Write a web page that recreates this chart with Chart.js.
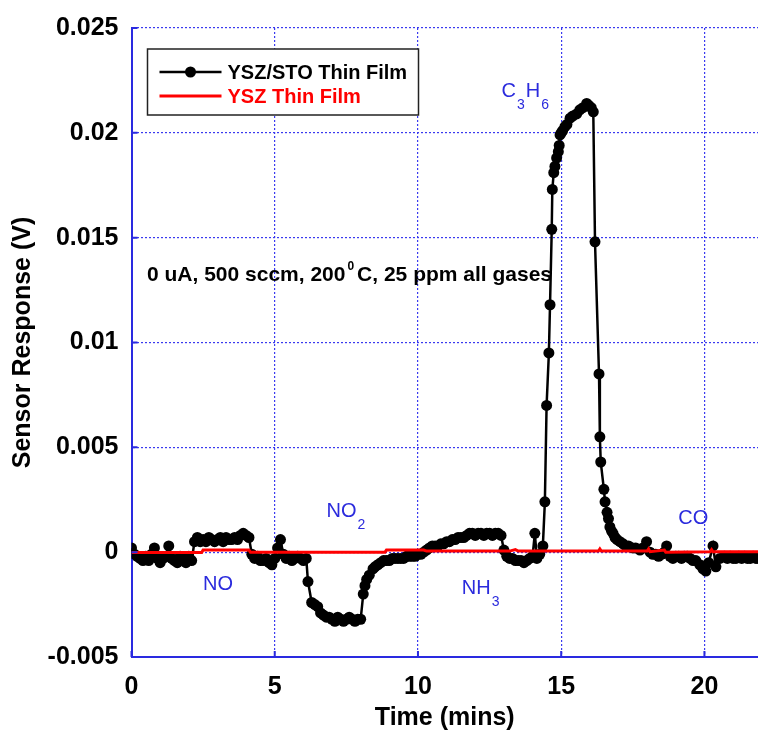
<!DOCTYPE html>
<html>
<head>
<meta charset="utf-8">
<script src="https://cdn.jsdelivr.net/npm/chart.js@4.4.1/dist/chart.umd.min.js"></script>
<style>
  html, body { margin: 0; padding: 0; background: #fff; overflow: hidden; }
  canvas { display: block; }
</style>
</head>
<body>
<canvas id="sensorChart" width="758" height="733"></canvas>
<script>
// YSZ/STO thin film: time (min) / response (V)
const stoTime = [
  0.0, 0.1, 0.2, 0.3, 0.4, 0.5, 0.6, 0.7, 0.8, 0.9,
  1.0, 1.1, 1.2, 1.3, 1.4, 1.5, 1.6, 1.7, 1.8, 1.9,
  2.0, 2.1, 2.2, 2.3, 2.4, 2.5, 2.6, 2.7, 2.8, 2.9,
  3.0, 3.1, 3.2, 3.3, 3.4, 3.5, 3.6, 3.7, 3.8, 3.9,
  4.0, 4.1, 4.2, 4.3, 4.4, 4.5, 4.6, 4.7, 4.8, 4.9,
  5.0, 5.1, 5.2, 5.3, 5.4, 5.5, 5.6, 5.7, 5.8, 5.9,
  6.0, 6.1, 6.16, 6.29, 6.4, 6.5, 6.6, 6.7, 6.8, 6.9,
  7.0, 7.1, 7.2, 7.3, 7.4, 7.5, 7.6, 7.7, 7.8, 7.9,
  8.0, 8.09, 8.15, 8.21, 8.3, 8.43, 8.5, 8.6, 8.7, 8.8,
  8.9, 9.0, 9.1, 9.2, 9.3, 9.4, 9.5, 9.6, 9.7, 9.8,
  9.9, 10.0, 10.1, 10.2, 10.3, 10.4, 10.5, 10.6, 10.7, 10.8,
  10.9, 11.0, 11.1, 11.2, 11.3, 11.4, 11.5, 11.6, 11.7, 11.8,
  11.9, 12.0, 12.1, 12.2, 12.3, 12.4, 12.5, 12.6, 12.7, 12.8,
  12.9, 13.0, 13.1, 13.2, 13.3, 13.4, 13.5, 13.6, 13.7, 13.8,
  13.9, 14.0, 14.08, 14.15, 14.25, 14.36, 14.43, 14.49, 14.57, 14.61,
  14.67, 14.69, 14.74, 14.78, 14.84, 14.9, 14.93, 14.96, 15.0, 15.05,
  15.13, 15.2, 15.31, 15.4, 15.54, 15.65, 15.76, 15.89, 15.97, 16.05,
  16.12, 16.18, 16.32, 16.35, 16.38, 16.49, 16.53, 16.6, 16.65, 16.7,
  16.76, 16.81, 16.88, 16.95, 17.05, 17.16, 17.25, 17.35, 17.5, 17.6,
  17.75, 17.85, 17.98, 18.1, 18.2, 18.3, 18.4, 18.5, 18.6, 18.68,
  18.8, 18.9, 19.0, 19.1, 19.2, 19.3, 19.4, 19.5, 19.6, 19.7,
  19.84, 19.95, 20.05, 20.15, 20.3, 20.4, 20.54, 20.7, 20.8, 20.9,
  21.0, 21.1, 21.2, 21.3, 21.4, 21.5, 21.6, 21.7, 21.8, 21.9
];
const stoResponse = [
  0.0002, -0.0001, -0.0002, -0.0003, -0.0004, -0.0002, -0.0004, -0.0001, 0.0002, -0.0003,
  -0.0005, -0.0003, -0.0002, 0.0003, -0.0003, -0.0004, -0.0005, -0.0002, -0.0004, -0.0005,
  -0.0002, -0.0004, 0.0005, 0.0007, 0.0005, 0.0006, 0.0005, 0.0007, 0.0006, 0.0005,
  0.0006, 0.0007, 0.0005, 0.0007, 0.0006, 0.0006, 0.0007, 0.0006, 0.0008, 0.0009,
  0.0008, 0.0007, -0.0001, -0.0003, -0.0002, -0.0004, -0.0004, -0.0003, -0.0005, -0.0006,
  -0.0003, 0.0002, 0.0006, -0.0001, -0.0003, -0.0002, -0.0004, -0.0003, -0.0002, -0.0003,
  -0.0004, -0.0003, -0.0014, -0.0024, -0.0025, -0.0026, -0.0029, -0.0030, -0.0031, -0.0031,
  -0.0032, -0.0033, -0.0031, -0.0032, -0.0033, -0.0032, -0.0031, -0.0032, -0.0033, -0.0032,
  -0.0032, -0.0020, -0.0016, -0.0013, -0.0011, -0.0008, -0.0007, -0.0006, -0.0005, -0.0004,
  -0.0004, -0.0004, -0.0003, -0.0003, -0.0003, -0.0003, -0.0003, -0.0002, -0.0002, -0.0002,
  -0.0002, -0.0001, -0.0001, 0.0000, 0.0001, 0.0002, 0.0003, 0.0003, 0.0003, 0.0004,
  0.0004, 0.0005, 0.0005, 0.0006, 0.0006, 0.0007, 0.0007, 0.0007, 0.0008, 0.0009,
  0.0009, 0.0008, 0.0009, 0.0009, 0.0008, 0.0009, 0.0009, 0.0008, 0.0009, 0.0009,
  0.0008, 0.0001, -0.0002, -0.0003, -0.0003, -0.0004, -0.0004, -0.0004, -0.0005, -0.0004,
  -0.0003, -0.0002, 0.0009, -0.0003, -0.0001, 0.0003, 0.0024, 0.0070, 0.0095, 0.0118,
  0.0154, 0.0173, 0.0181, 0.0184, 0.0188, 0.0191, 0.0194, 0.0199, 0.0200, 0.0201,
  0.0203, 0.0204, 0.0207, 0.0208, 0.0209, 0.0211, 0.0212, 0.0214, 0.0213, 0.0212,
  0.0210, 0.0148, 0.0085, 0.0055, 0.0043, 0.0030, 0.0024, 0.0019, 0.0016, 0.0012,
  0.0010, 0.0009, 0.0007, 0.0006, 0.0005, 0.0004, 0.0003, 0.0003, 0.0002, 0.0002,
  0.0001, 0.0002, 0.0005, 0.0000, -0.0001, -0.0001, -0.0002, -0.0001, 0.0000, 0.0003,
  -0.0002, -0.0003, -0.0002, -0.0002, -0.0003, -0.0002, -0.0002, -0.0003, -0.0004, -0.0004,
  -0.0006, -0.0008, -0.0009, -0.0005, 0.0003, -0.0007, -0.0003, -0.0002, -0.0003, -0.0002,
  -0.0003, -0.0003, -0.0002, -0.0003, -0.0002, -0.0003, -0.0003, -0.0002, -0.0003, -0.0003
];

// YSZ thin film: time (min) / response (V)
const yszTime = [
  0, 2.45, 2.5, 4.1, 4.15, 8.85, 8.9, 10.2, 10.3, 13.2,
  13.4, 13.5, 16.3, 16.35, 16.4, 18.0, 18.05, 18.1, 18.6, 18.65,
  20.2, 20.25, 20.3, 21.9
];
const yszResponse = [
  -0.00002, -0.00002, 0.0001, 0.0001, 0.0, 0.0, 0.0001, 0.0001, 0.00005, 0.00005,
  0.00012, 0.00005, 0.00005, 0.00015, 0.00005, 0.00005, 0.00015, 0.00002, 0.0001, 0.0,
  0.00002, 0.00012, 0.00002, 0.00002
];

const xTickValues = [0, 5, 10, 15, 20];
const yTickValues = [-0.005, 0, 0.005, 0.01, 0.015, 0.02, 0.025];
const seriesNames = ['YSZ/STO Thin Film', 'YSZ Thin Film'];

// gas labels, anchored at (time, response); parts with sub:true are subscripts
const gasLabels = [
  { t: 2.50, v: -0.00154, parts: [{ s: 'NO' }] },
  { t: 6.81, v: 0.00194, parts: [{ s: 'NO' }, { s: '2', sub: true }] },
  { t: 11.53, v: -0.00173, parts: [{ s: 'NH' }, { s: '3', sub: true }] },
  { t: 12.92, v: 0.02197, parts: [{ s: 'C' }, { s: '3', sub: true }, { s: 'H' }, { s: '6', sub: true }] },
  { t: 19.09, v: 0.00161, parts: [{ s: 'CO' }] }
];
const conditionNote = { t: 0.54, v: 0.01323, before: '0 uA, 500 sccm, 200', sup: '0', after: 'C, 25 ppm all gases' };

const FONT = "'Liberation Sans', Arial, sans-serif";
const AXIS_BLUE = '#2a2ae0';
const GRID_BLUE = '#3a3af0';

const overlayPlugin = {
  id: 'overlayPlugin',
  afterDraw(chart) {
    const ctx = chart.ctx;
    const area = chart.chartArea;
    const xs = chart.scales.x;
    const ys = chart.scales.y;

    ctx.save();

    // short inward tick marks
    ctx.strokeStyle = AXIS_BLUE;
    ctx.lineWidth = 2;
    ctx.beginPath();
    xTickValues.forEach(v => {
      const px = xs.getPixelForValue(v);
      ctx.moveTo(px, area.bottom);
      ctx.lineTo(px, area.bottom - 6);
    });
    yTickValues.forEach(v => {
      const py = ys.getPixelForValue(v);
      ctx.moveTo(area.left, py);
      ctx.lineTo(area.left + 6, py);
    });
    ctx.stroke();

    // legend box
    const bx = area.left + 16, by = area.top + 21, bw = 271, bh = 66;
    ctx.fillStyle = '#fff';
    ctx.fillRect(bx, by, bw, bh);
    ctx.strokeStyle = '#222';
    ctx.lineWidth = 1.5;
    ctx.strokeRect(bx, by, bw, bh);

    const sets = chart.data.datasets;
    const rows = [by + 23, by + 47];
    ctx.textBaseline = 'middle';
    ctx.textAlign = 'left';
    ctx.font = 'bold 20px ' + FONT;
    sets.forEach((ds, i) => {
      const y = rows[i];
      ctx.strokeStyle = ds.borderColor;
      ctx.lineWidth = ds.borderWidth;
      ctx.beginPath();
      ctx.moveTo(bx + 12, y);
      ctx.lineTo(bx + 74, y);
      ctx.stroke();
      if (ds.pointRadius > 0) {
        ctx.fillStyle = ds.pointBackgroundColor;
        ctx.beginPath();
        ctx.arc(bx + 43, y, ds.pointRadius, 0, Math.PI * 2);
        ctx.fill();
      }
      ctx.fillStyle = i === 0 ? '#000' : '#ff0000';
      ctx.fillText(ds.label, bx + 80, y + 1);
    });

    // test condition note
    let nx = xs.getPixelForValue(conditionNote.t);
    const ny = ys.getPixelForValue(conditionNote.v);
    ctx.fillStyle = '#000';
    ctx.font = 'bold 21px ' + FONT;
    ctx.fillText(conditionNote.before, nx, ny);
    nx += ctx.measureText(conditionNote.before).width + 2;
    ctx.font = 'bold 12px ' + FONT;
    ctx.fillText(conditionNote.sup, nx, ny - 8);
    nx += ctx.measureText(conditionNote.sup).width + 3;
    ctx.font = 'bold 21px ' + FONT;
    ctx.fillText(conditionNote.after, nx, ny);

    // gas labels
    ctx.fillStyle = '#2b2bdd';
    gasLabels.forEach(g => {
      let x = xs.getPixelForValue(g.t);
      const y = ys.getPixelForValue(g.v);
      g.parts.forEach(p => {
        ctx.font = (p.sub ? '14px ' : '20px ') + FONT;
        ctx.fillText(p.s, x + (p.sub ? 1 : 0), p.sub ? y + 14 : y);
        x += ctx.measureText(p.s).width + (p.sub ? 2 : 0);
      });
    });

    ctx.restore();
  }
};

// grid only at the listed ticks
const gridAt = list => c => (c.tick && list.includes(c.tick.value)) ? GRID_BLUE : 'rgba(0,0,0,0)';

const ctx = document.getElementById('sensorChart').getContext('2d');
new Chart(ctx, {
  type: 'line',
  data: {
    datasets: [
      {
        label: seriesNames[0],
        data: stoTime.map((t, i) => ({ x: t, y: stoResponse[i] })),
        borderColor: '#000',
        borderWidth: 2.5,
        pointRadius: 5.5,
        pointBackgroundColor: '#000',
        pointBorderWidth: 0,
        order: 1
      },
      {
        label: seriesNames[1],
        data: yszTime.map((t, i) => ({ x: t, y: yszResponse[i] })),
        borderColor: '#ff0000',
        borderWidth: 3,
        pointRadius: 0,
        order: 0
      }
    ]
  },
  options: {
    responsive: false,
    animation: false,
    devicePixelRatio: 1,
    layout: { autoPadding: false, padding: { top: 23, right: 0, bottom: 0, left: 0 } },
    plugins: {
      legend: { display: false },
      tooltip: { enabled: false }
    },
    scales: {
      x: {
        type: 'linear',
        min: 0,
        max: 21.87,
        afterBuildTicks: s => { s.ticks = xTickValues.map(v => ({ value: v })); },
        afterFit: s => { s.height = 76; s.paddingLeft = 0; s.paddingRight = 0; },
        ticks: {
          color: '#000',
          font: { family: FONT, size: 25, weight: 'bold' },
          padding: 15,
          maxRotation: 0,
          callback: v => String(v)
        },
        grid: { color: gridAt(xTickValues), lineWidth: 1.2, drawTicks: false },
        border: { display: true, color: AXIS_BLUE, width: 2, dash: [2, 2] },
        title: {
          display: true,
          text: 'Time (mins)',
          color: '#000',
          font: { family: FONT, size: 25, weight: 'bold' },
          padding: 0
        }
      },
      y: {
        type: 'linear',
        min: -0.005,
        max: 0.025,
        afterBuildTicks: s => { s.ticks = yTickValues.map(v => ({ value: v })); },
        afterFit: s => { s.width = 131.5; },
        ticks: {
          color: '#000',
          font: { family: FONT, size: 25, weight: 'bold' },
          padding: 13,
          callback: v => String(v)
        },
        grid: { color: gridAt(yTickValues), lineWidth: 1.2, drawTicks: false },
        border: { display: true, color: AXIS_BLUE, width: 2, dash: [2, 2] },
        title: {
          display: true,
          text: 'Sensor Response (V)',
          color: '#000',
          font: { family: FONT, size: 25, weight: 'bold' },
          padding: { top: 8, bottom: 0 }
        }
      }
    }
  },
  plugins: [overlayPlugin]
});
</script>
</body>
</html>
